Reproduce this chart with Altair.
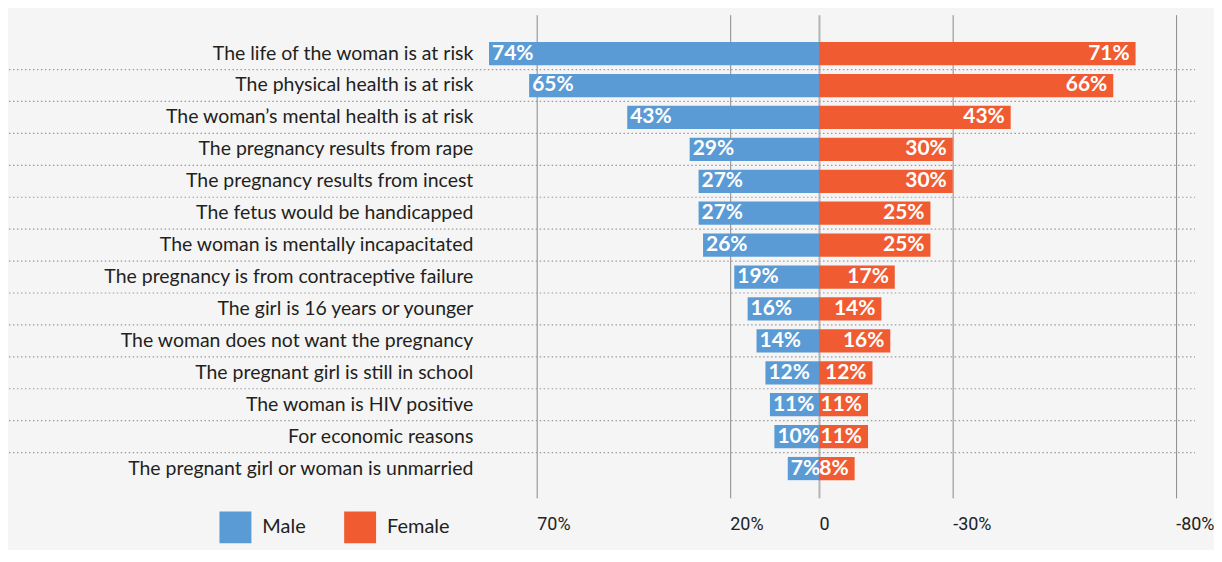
import json
import altair as alt
import pandas as pd

categories = [
    "The life of the woman is at risk",
    "The physical health is at risk",
    "The woman\u2019s mental health is at risk",
    "The pregnancy results from rape",
    "The pregnancy results from incest",
    "The fetus would be handicapped",
    "The woman is mentally incapacitated",
    "The pregnancy is from contraceptive failure",
    "The girl is 16 years or younger",
    "The woman does not want the pregnancy",
    "The pregnant girl is still in school",
    "The woman is HIV positive",
    "For economic reasons",
    "The pregnant girl or woman is unmarried",
]
male = [74, 65, 43, 29, 27, 27, 26, 19, 16, 14, 12, 11, 10, 7]
female = [71, 66, 43, 30, 30, 25, 25, 17, 14, 16, 12, 11, 11, 8]
series = ["Male", "Female"]
series_colors = ["#5b9bd5", "#f15b31"]
tick_values = [-63.3, -20, 0, 30, 80]
tick_labels = ["70%", "20%", "0", "-30%", "-80%"]

rows = []
for c, m, f in zip(categories, male, female):
    rows.append({"category": c, "sex": "Male", "value": -m, "label": f"{m}%"})
    rows.append({"category": c, "sex": "Female", "value": f, "label": f"{f}%"})
df = pd.DataFrame(rows)
sep_df = pd.DataFrame({"category": categories[:-1]})

W = 1189
H = 484.4
label_map = json.dumps({str(v): l for v, l in zip(tick_values, tick_labels)})

x_scale = alt.Scale(domain=[-181.65, 84.34], nice=False, zero=False)
y_scale = alt.Scale(domain=categories, paddingInner=0.272, paddingOuter=0.705, align=0.607)

x_axis = alt.Axis(
    values=tick_values,
    labelExpr=f"({label_map})[datum.value]",
    grid=True,
    gridColor={"condition": {"test": "datum.value === 0", "value": "#b4b4b4"}, "value": "#8a8a8a"},
    gridWidth={"condition": {"test": "datum.value === 0", "value": 2}, "value": 1},
    ticks=False,
    domain=False,
    labelAlign="left",
    labelPadding=18,
    labelFont="Roboto",
    labelFontSize=18,
    labelColor="#222222",
    labelFlush=False,
    labelOverlap=False,
    title=None,
)
y_axis = alt.Axis(
    title=None,
    orient="left",
    offset=-465,
    labelPadding=0,
    ticks=False,
    domain=False,
    grid=False,
    labelLimit=600,
    labelFont="Lato",
    labelFontSize=19.5,
    labelColor="#231f20",
)

Y = alt.Y("category:N", scale=y_scale, axis=y_axis)
X = alt.X("value:Q", scale=x_scale, axis=x_axis)

seps = alt.Chart(sep_df).mark_rule(
    strokeDash=[1.5, 2.5], color="#9a9a9a", strokeWidth=1.2, yOffset=16
).encode(
    y=Y,
    x=alt.value(0),
    x2=alt.value(W),
)

bars = alt.Chart(df).mark_bar().encode(
    y=Y,
    x=X,
    color=alt.Color(
        "sex:N",
        scale=alt.Scale(domain=series, range=series_colors),
        legend=alt.Legend(
            orient="none",
            legendX=211,
            legendY=498,
            direction="horizontal",
            title=None,
            symbolType="square",
            symbolSize=1024,
            symbolStrokeWidth=0,
            symbolOpacity=1,
            labelFont="Lato",
            labelFontSize=20,
            labelColor="#222222",
            labelOffset=11,
            columnPadding=38,
        ),
    ),
)

text_m = alt.Chart(df).transform_filter("datum.sex == 'Male'").mark_text(
    align="left", baseline="middle", dx=3, font="Lato", fontWeight="bold", fontSize=21, color="white"
).encode(y=Y, x=X, text="label:N")
text_f = alt.Chart(df).transform_filter("datum.sex == 'Female'").mark_text(
    align="right", baseline="middle", dx=-6, font="Lato", fontWeight="bold", fontSize=21, color="white"
).encode(y=Y, x=X, text="label:N")

chart = alt.layer(bars, seps, text_m, text_f).properties(
    width=W,
    height=H,
    padding={"left": 0, "top": 6, "right": 0, "bottom": 6},
    background="#f5f5f5",
).configure_view(stroke=None)

chart.save("out.html", embed_options={"renderer": "svg", "actions": False})
